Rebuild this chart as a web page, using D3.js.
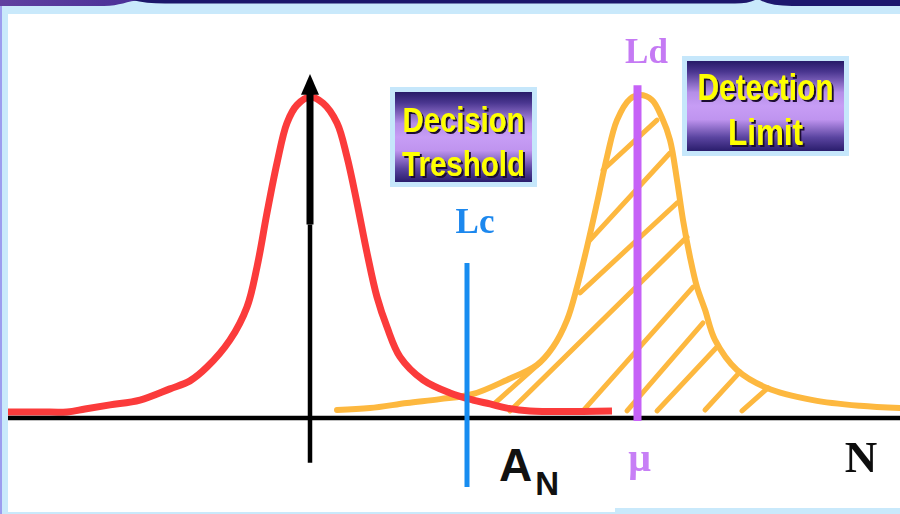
<!DOCTYPE html>
<html>
<head>
<meta charset="utf-8">
<script src="https://cdn.jsdelivr.net/npm/d3@7"></script>
<style>
  html, body { margin: 0; padding: 0; background: #ffffff; }
  svg { display: block; }
</style>
</head>
<body>
<svg id="chart" width="900" height="514"></svg>
<script>
// Blank (background) distribution: [channel, counts]
const blankDist = [
  [-30.2, 1.9], [-27, 1.9], [-24.3, 1.9], [-22.5, 2.8], [-20, 4.1], [-17, 5.6],
  [-14, 9.1], [-12, 11.6], [-10.3, 15.9], [-8, 24.4], [-6.3, 34.7], [-5.3, 47.2],
  [-4.3, 64.1], [-3.3, 79.7], [-2.3, 92.2], [-1.3, 97.8], [0, 100.3], [1.3, 98.4],
  [2.7, 92.2], [3.7, 81.6], [4.7, 67.2], [5.7, 51.6], [6.7, 37.8], [7.7, 28.4],
  [9, 19.1], [11.3, 11.9], [14, 7.8], [16.3, 5.6], [18, 4.4], [19.7, 3.1],
  [22, 2.2], [30.2, 2.2]
];

// Sample distribution centred on the detection limit: [channel, counts]
const signalDist = [
  [2.7, 2.5], [6, 3.1], [9.7, 4.7], [13, 5.9], [16.3, 7.5], [19.7, 11.9],
  [22.7, 16.6], [24.3, 22.2], [25.7, 30.6], [26.7, 40.9], [27.7, 53.4],
  [28.7, 67.2], [29.7, 81.6], [30.7, 93.1], [32, 99.7], [33, 100.9],
  [34.2, 99.4], [35.2, 93.8], [36, 86.9], [36.7, 74.4], [37.3, 61.9],
  [38, 50.3], [38.7, 40.9], [39.5, 33.8], [40.5, 24.4], [42.7, 15],
  [45.7, 9.4], [50.3, 5.6], [55, 3.8], [59, 3.1]
];

// Hatching of the signal area: [x1, y1, x2, y2]
const hatchSegments = [
  [29.3, 77.5, 34.7, 93.1],
  [28.0, 55.6, 36.0, 82.8],
  [27.0, 39.1, 36.7, 67.2],
  [20.0, 2.2, 37.7, 56.6],
  [18.3, 4.1, 23.0, 17.2],
  [27.3, 2.2, 38.3, 40.9],
  [31.7, 2.2, 39.3, 29.7],
  [34.7, 2.2, 40.7, 22.2],
  [39.5, 2.5, 43.0, 14.4],
  [43.2, 2.2, 45.8, 9.4]
];

// Decision threshold and detection limit positions
const markerNames = ["Lc", "Ld"];
const markerX = [15.7, 32.75];
const markerTop = [48.4, 104];
const markerBottom = [-21.6, -0.9];

// Text of the two callout boxes
const decisionLines = ["Decision", "Treshold"];
const detectionLines = ["Detection", "Limit"];

const svg = d3.select("#chart");
const W = 900, H = 514;

const x = d3.scaleLinear().domain([-30.2, 59]).range([8, 900]);
const y = d3.scaleLinear().domain([0, 100]).range([418, 98]);

const defs = svg.append("defs");

const boxGrad = defs.append("linearGradient")
  .attr("id", "boxGrad").attr("x1", 0).attr("y1", 0).attr("x2", 0).attr("y2", 1);
[[0, "#271b68"], [0.12, "#4a3690"], [0.35, "#b48ee8"], [0.5, "#c79df5"],
 [0.65, "#bf94ef"], [0.85, "#5a44a0"], [1, "#2a1d6c"]]
  .forEach(([o, c]) => boxGrad.append("stop").attr("offset", o).attr("stop-color", c));

const leftBand = defs.append("linearGradient")
  .attr("id", "leftBand").attr("x1", 0).attr("y1", 0).attr("x2", 1).attr("y2", 0);
leftBand.append("stop").attr("offset", 0).attr("stop-color", "#60409f");
leftBand.append("stop").attr("offset", 1).attr("stop-color", "#4a2f98");

const soft = defs.append("filter").attr("id", "soft")
  .attr("x", "-20%").attr("y", "-20%").attr("width", "140%").attr("height", "140%");
soft.append("feGaussianBlur").attr("stdDeviation", 0.6);

// Hard dark shadow under the yellow box captions
const shadow = defs.append("filter").attr("id", "shadow")
  .attr("x", "-10%").attr("y", "-20%").attr("width", "130%").attr("height", "150%");
shadow.append("feDropShadow")
  .attr("dx", 2).attr("dy", 2).attr("stdDeviation", 0.4)
  .attr("flood-color", "#1a1030").attr("flood-opacity", 1);

// Slide frame
svg.append("rect").attr("width", W).attr("height", H).attr("fill", "#c9e9fb");
svg.append("rect").attr("x", 0).attr("y", 0).attr("width", 2).attr("height", H).attr("fill", "#9c9cee");
svg.append("rect").attr("x", 8).attr("y", 14).attr("width", W - 8).attr("height", 498).attr("fill", "#ffffff");
svg.append("rect").attr("x", 615).attr("y", 508).attr("width", W - 615).attr("height", 6).attr("fill", "#c9e9fb");

// Title bar remnants along the top edge
svg.append("path").attr("d", "M0,0 H142 C126,1 120,6 104,6 H0 Z").attr("fill", "url(#leftBand)");
svg.append("path").attr("d", "M132,0 Q146,3.5 165,3.5 H735 Q748,3.5 755,0 Z").attr("fill", "#1c176b");
svg.append("path").attr("d", "M760,0 Q770,6 792,6 H900 V0 Z").attr("fill", "#1e186e");

const line = d3.line()
  .x(d => x(d[0])).y(d => y(d[1]))
  .curve(d3.curveCatmullRom.alpha(0.5));

// Signal distribution and its hatched area
svg.append("path").datum(signalDist)
  .attr("d", line).attr("fill", "none")
  .attr("stroke", "#fdb83f").attr("stroke-width", 6)
  .attr("stroke-linejoin", "round").attr("stroke-linecap", "round");

svg.append("g").selectAll("line").data(hatchSegments).join("line")
  .attr("x1", d => x(d[0])).attr("y1", d => y(d[1]))
  .attr("x2", d => x(d[2])).attr("y2", d => y(d[3]))
  .attr("stroke", "#fdb83f").attr("stroke-width", 5).attr("stroke-linecap", "round");

// Blank distribution
svg.append("path").datum(blankDist)
  .attr("d", line).attr("fill", "none")
  .attr("stroke", "#fb3b3b").attr("stroke-width", 7)
  .attr("stroke-linejoin", "round");

// Axes
svg.append("line")
  .attr("x1", x(-30.2)).attr("x2", x(59))
  .attr("y1", y(0)).attr("y2", y(0))
  .attr("stroke", "#000").attr("stroke-width", 4.5);

svg.append("line")
  .attr("x1", x(0)).attr("x2", x(0))
  .attr("y1", y(-14)).attr("y2", y(60.5))
  .attr("stroke", "#000").attr("stroke-width", 4.5);
svg.append("line")
  .attr("x1", x(0)).attr("x2", x(0))
  .attr("y1", y(60.5)).attr("y2", y(102))
  .attr("stroke", "#000").attr("stroke-width", 7);
svg.append("path")
  .attr("d", `M${x(0)},${y(107.5)} L${x(0.9)},${y(101)} L${x(-0.9)},${y(101)} Z`)
  .attr("fill", "#000");

// Threshold markers
const markerColors = ["#178cf0", "#c662f7"];
const markerWidths = [5, 8];
markerNames.forEach((name, i) => {
  svg.append("line")
    .attr("x1", x(markerX[i])).attr("x2", x(markerX[i]))
    .attr("y1", y(markerTop[i])).attr("y2", y(markerBottom[i]))
    .attr("stroke", markerColors[i]).attr("stroke-width", markerWidths[i]);
});

const serif = "'Liberation Serif', 'DejaVu Serif', serif";
const sans = "'Liberation Sans', Arial, sans-serif";

svg.append("text").text("Lc")
  .attr("x", x(markerX[0]) + 8).attr("y", 233)
  .attr("text-anchor", "middle").attr("font-family", serif)
  .attr("font-weight", "bold").attr("font-size", 35)
  .attr("fill", "#1f88ee").attr("filter", "url(#soft)");

svg.append("text").text("Ld")
  .attr("x", x(markerX[1]) + 9).attr("y", 63)
  .attr("text-anchor", "middle").attr("font-family", serif)
  .attr("font-weight", "bold").attr("font-size", 35)
  .attr("fill", "#c57af4").attr("filter", "url(#soft)");

svg.append("text").text("μ")
  .attr("x", x(markerX[1]) + 2).attr("y", 471)
  .attr("text-anchor", "middle").attr("font-family", serif)
  .attr("font-weight", "bold").attr("font-size", 40)
  .attr("fill", "#c77ff6").attr("filter", "url(#soft)");

const an = svg.append("text").attr("x", 499).attr("y", 481)
  .attr("font-family", sans).attr("font-weight", "bold").attr("fill", "#111");
an.append("tspan").attr("font-size", 46).text("A");
an.append("tspan").attr("font-size", 33).attr("dy", 14).attr("dx", 3).text("N");

svg.append("text").text("N")
  .attr("x", 861).attr("y", 472)
  .attr("text-anchor", "middle").attr("font-family", serif)
  .attr("font-weight", "bold").attr("font-size", 45)
  .attr("fill", "#111").attr("filter", "url(#soft)");

// Callout boxes
function callout(x0, y0, x1, y1, lines, baselines, lengths, fontSize) {
  const g = svg.append("g");
  g.append("rect").attr("x", x0 - 5).attr("y", y0 - 5)
    .attr("width", x1 - x0 + 10).attr("height", y1 - y0 + 10).attr("fill", "#c6e7fb");
  g.append("rect").attr("x", x0).attr("y", y0)
    .attr("width", x1 - x0).attr("height", y1 - y0).attr("fill", "url(#boxGrad)");
  const cx = (x0 + x1) / 2;
  lines.forEach((t, i) => {
    g.append("text").text(t)
      .attr("x", cx).attr("y", baselines[i])
      .attr("text-anchor", "middle")
      .attr("font-family", sans).attr("font-weight", "bold")
      .attr("font-size", fontSize).attr("fill", "#ffff00")
      .attr("filter", "url(#shadow)")
      .attr("textLength", lengths[i]).attr("lengthAdjust", "spacingAndGlyphs");
  });
}

callout(395, 92, 532, 182, decisionLines, [132, 176], [122, 123], 35);
callout(687, 61, 844, 151, detectionLines, [100, 145], [136, 75], 37);
</script>
</body>
</html>
